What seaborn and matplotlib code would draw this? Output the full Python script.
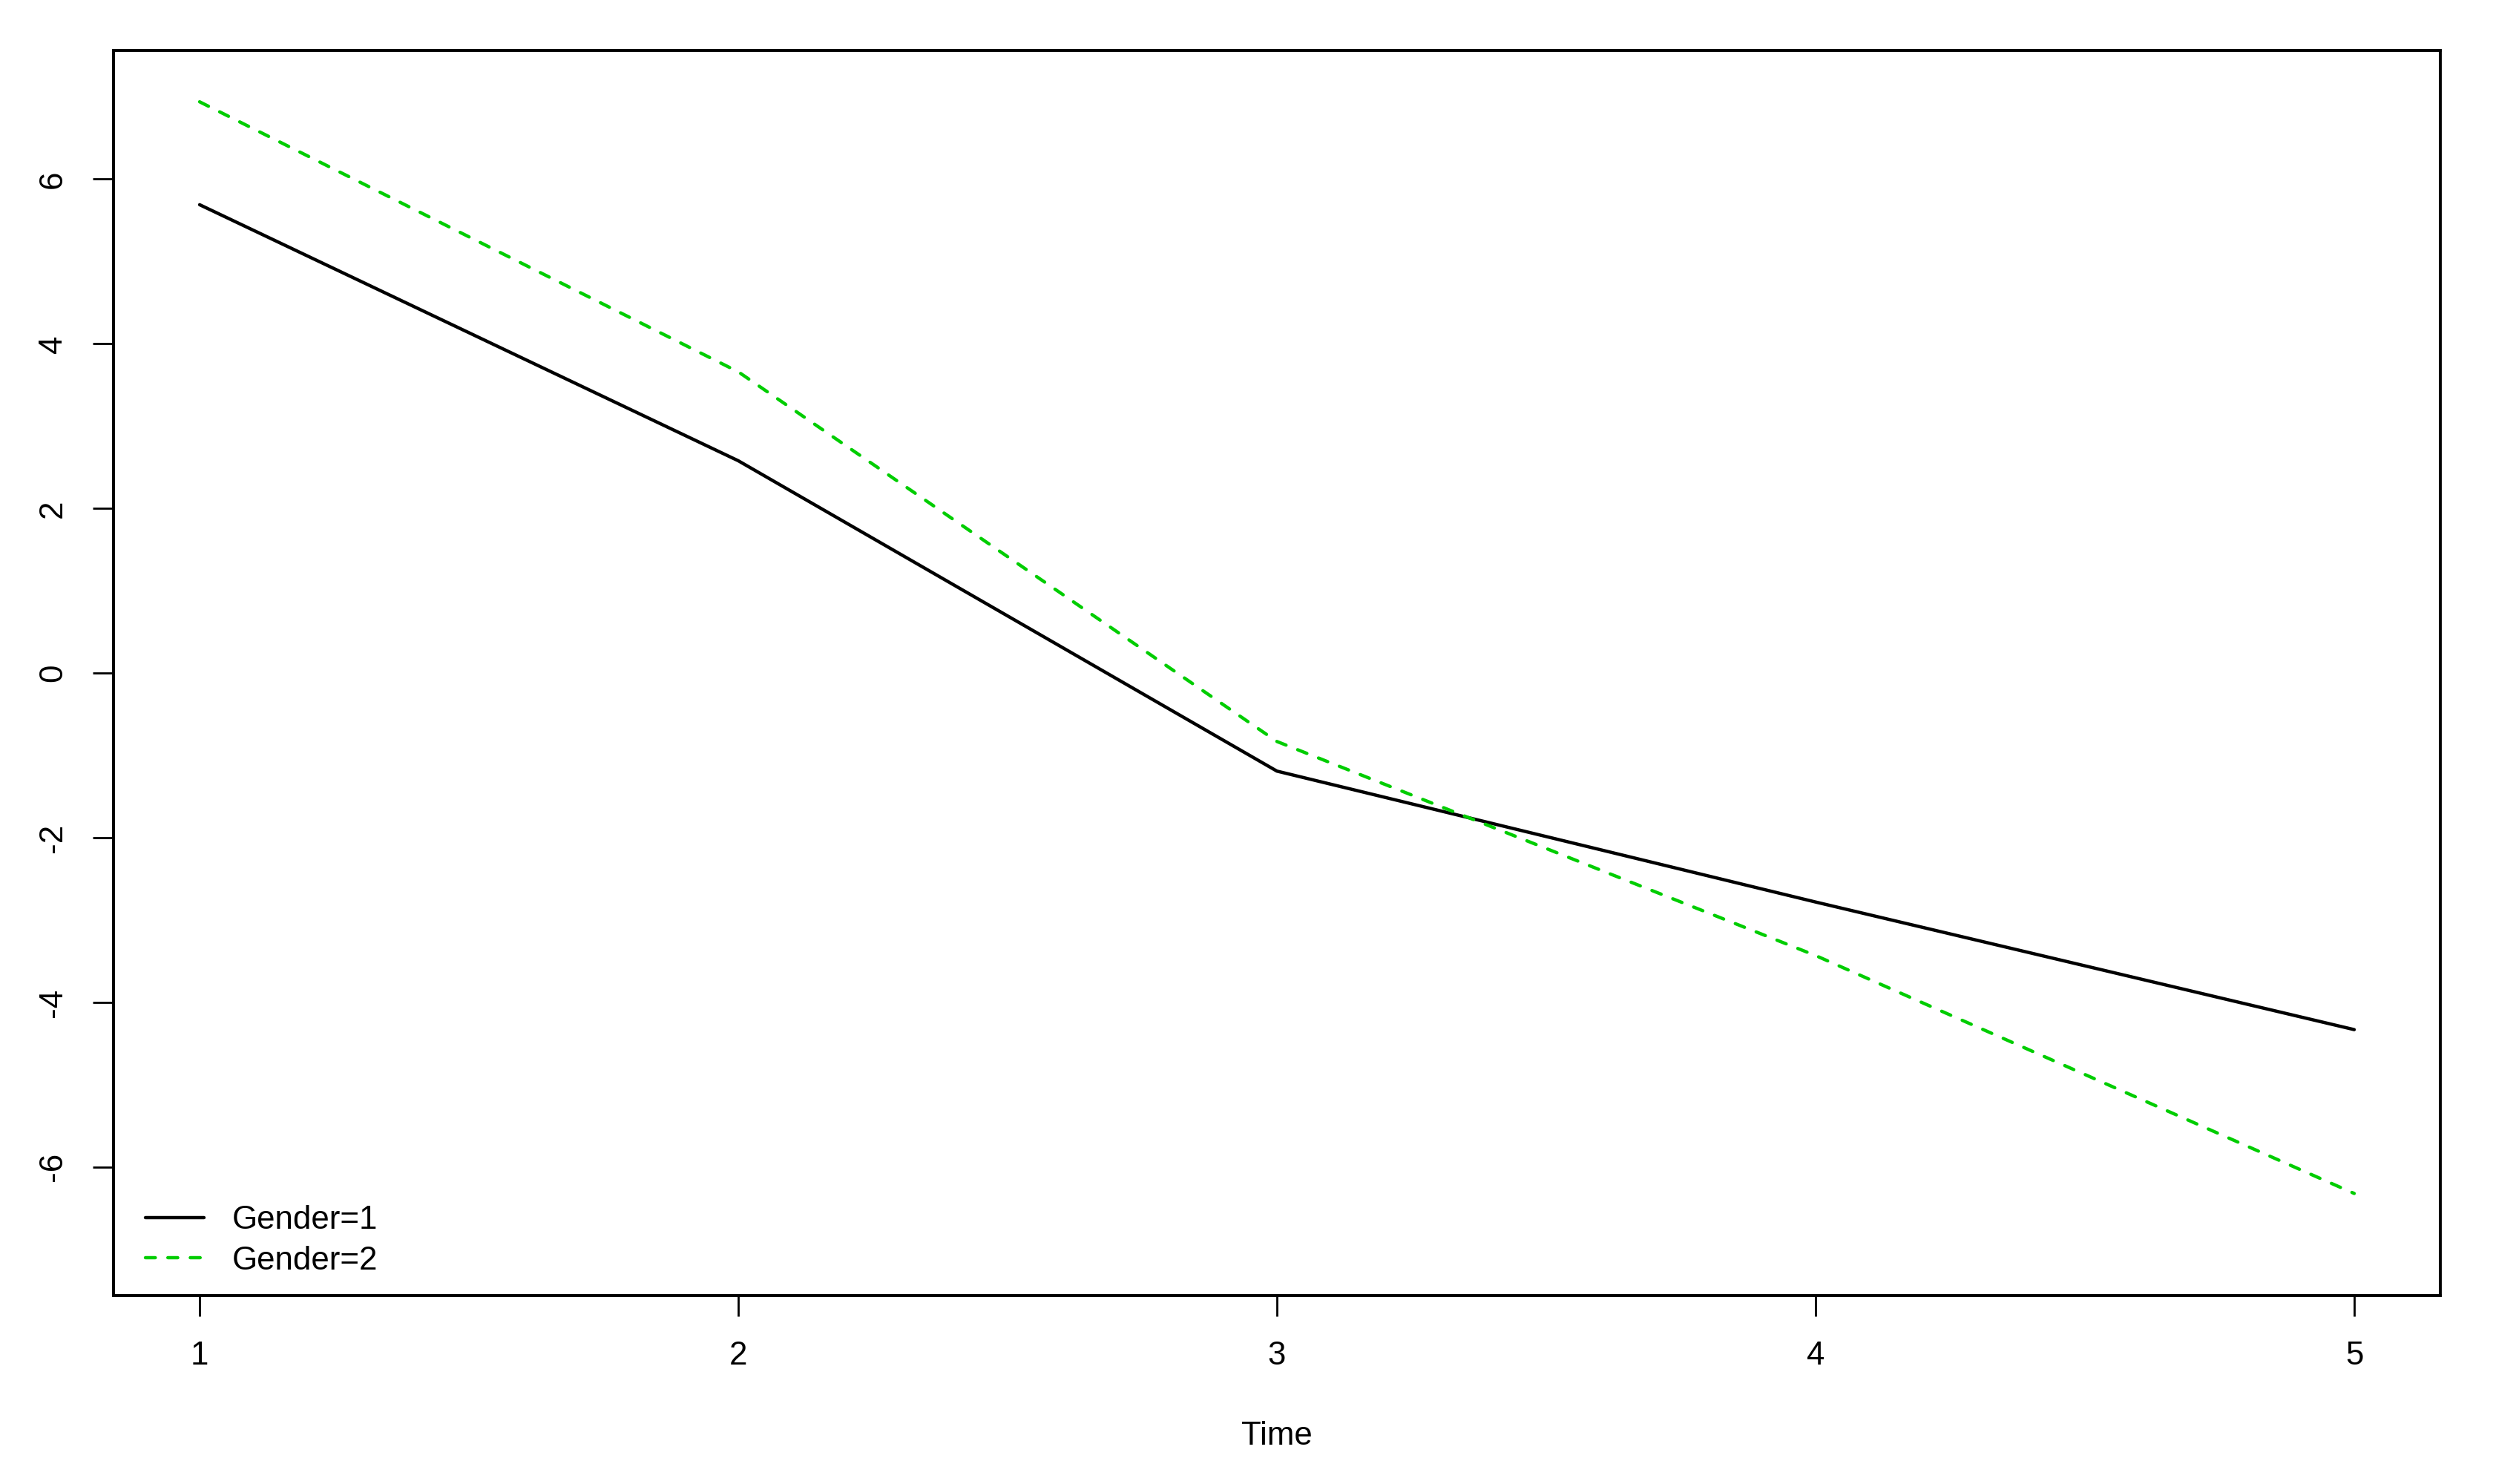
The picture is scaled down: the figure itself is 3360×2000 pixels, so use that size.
import matplotlib
matplotlib.use('Agg')
import matplotlib.pyplot as plt
import seaborn as sns
import pandas as pd

sns.set_theme(style='ticks')
plt.rcParams['font.family'] = ['Liberation Sans', 'DejaVu Sans']
plt.rcParams['text.color'] = 'black'
plt.rcParams['axes.labelcolor'] = 'black'
plt.rcParams['xtick.color'] = 'black'
plt.rcParams['ytick.color'] = 'black'

# values
time = [1, 2, 3, 4, 5]
gender1 = [5.69, 2.58, -1.19, -2.78, -4.33]
gender2 = [6.94, 3.66, -0.83, -3.43, -6.32]
series_labels = ['Gender=1', 'Gender=2']
x_ticks = [1, 2, 3, 4, 5]
y_ticks = [-6, -4, -2, 0, 2, 4, 6]

df1 = pd.DataFrame({'Time': time, 'value': gender1})
df2 = pd.DataFrame({'Time': time, 'value': gender2})

fig = plt.figure(figsize=(16.8, 10), dpi=200)
ax = fig.add_axes([0.0455, 0.127, 0.9334, 0.8388])

sns.lineplot(data=df1, x='Time', y='value', ax=ax, color='black', lw=1.6,
             label=series_labels[0], solid_capstyle='round')
sns.lineplot(data=df2, x='Time', y='value', ax=ax, color='#00CD00', lw=1.6,
             linestyle=(0, (3.0, 3.8)), dash_capstyle='round',
             label=series_labels[1])

# R style axis ranges (4% padding around 1..5 and -7..7)
ax.set_xlim(0.84, 5.16)
ax.set_ylim(-7.56, 7.56)
ax.set_xticks(x_ticks)
ax.set_yticks(y_ticks)
ax.set_xticklabels([str(t) for t in x_ticks])
ax.set_yticklabels([str(t) for t in y_ticks], rotation=90, va='center')
ax.tick_params(axis='both', length=10, width=1.0, color='black',
               labelsize=15.8, pad=12, direction='out')
ax.set_xlabel('Time', fontsize=15.8, labelpad=24)
ax.set_ylabel('')

for sp in ax.spines.values():
    sp.set_visible(True)
    sp.set_linewidth(1.4)
    sp.set_color('black')

ax.legend(loc='lower left', bbox_to_anchor=(0.0055, 0), frameon=False,
          fontsize=15.8, handlelength=1.8, handletextpad=0.85,
          labelspacing=0.3, borderaxespad=0.2, borderpad=0.4)

plt.savefig('out.png', dpi=200)
